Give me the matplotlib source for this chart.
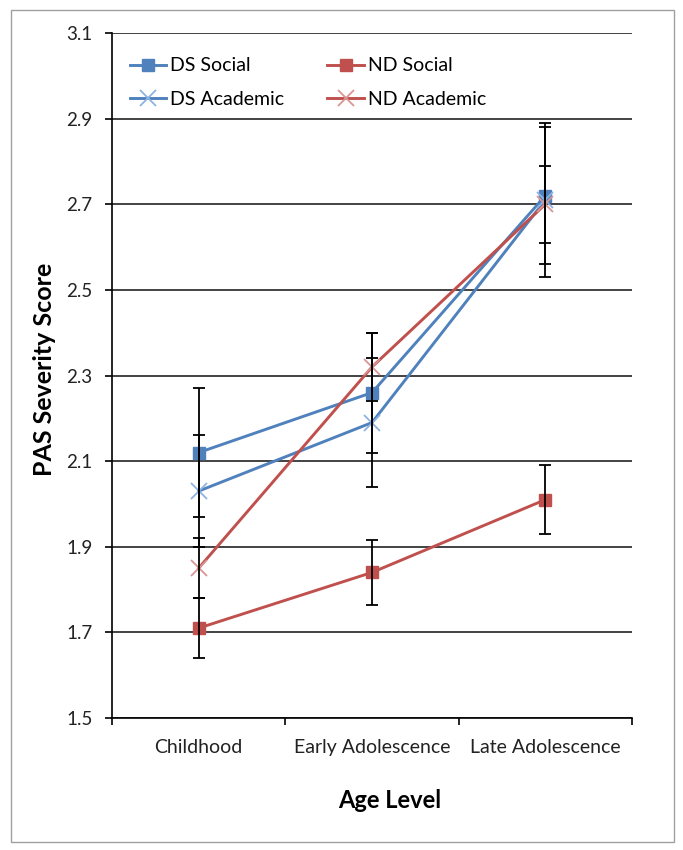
import matplotlib
matplotlib.use("Agg")
import matplotlib.pyplot as plt
from matplotlib.patches import Rectangle

plt.rcParams['font.family'] = ['Lato', 'DejaVu Sans']

categories = ["Childhood", "Early Adolescence", "Late Adolescence"]
ds_social = [2.12, 2.26, 2.72]
ds_social_err = [0.15, 0.14, 0.16]
ds_academic = [2.03, 2.19, 2.71]
ds_academic_err = [0.13, 0.15, 0.18]
nd_social = [1.71, 1.84, 2.01]
nd_social_err = [0.07, 0.075, 0.08]
nd_academic = [1.85, 2.32, 2.70]
nd_academic_err = [0.07, 0.08, 0.09]
y_ticks = [1.5, 1.7, 1.9, 2.1, 2.3, 2.5, 2.7, 2.9, 3.1]

blue = "#4F81BD"
red = "#C0504D"
light_blue = "#8DB3E2"
light_red = "#D99694"

fig = plt.figure(figsize=(6.83, 8.5), dpi=100)
fig.patches.append(Rectangle((11/683, 1-842/850), (674-11)/683, (842-10)/850,
                             transform=fig.transFigure, fill=False,
                             edgecolor="#a0a0a0", linewidth=1.0))
ax = fig.add_axes([112/683, 1-718/850, (632-112)/683, (718-33)/850])

x = list(range(len(categories)))
lw = 2.1
ax.plot(x, ds_social, color=blue, lw=lw, marker="s", ms=9, mfc=blue, mec=blue, label="DS Social", zorder=4)
ax.plot(x, ds_academic, color=blue, lw=lw, marker="x", ms=11, mew=1.3, mec=light_blue, label="DS Academic", zorder=4)
ax.plot(x, nd_social, color=red, lw=lw, marker="s", ms=9, mfc=red, mec=red, label="ND Social", zorder=4)
ax.plot(x, nd_academic, color=red, lw=lw, marker="x", ms=11, mew=1.3, mec=light_red, label="ND Academic", zorder=4)

for vals, errs in [(ds_social, ds_social_err), (ds_academic, ds_academic_err),
                   (nd_social, nd_social_err), (nd_academic, nd_academic_err)]:
    ax.errorbar(x, vals, yerr=errs, fmt="none", ecolor="black", elinewidth=1.3,
                capsize=4.5, capthick=1.3, zorder=5)

ax.set_xlim(-0.5, 2.5)
ax.set_ylim(1.5, 3.1)
ax.set_yticks(y_ticks)
ax.set_yticklabels([f"{v:.1f}" for v in y_ticks], fontsize=13.5, color="#222222")
ax.set_xticks([-0.5, 0.5, 1.5, 2.5])
ax.set_xticklabels([])
ax.set_xticks(x, minor=True)
ax.set_xticklabels(categories, minor=True, fontsize=14, color="#222222")
ax.tick_params(axis="x", which="major", length=5, width=1.2, direction="out")
ax.tick_params(axis="x", which="minor", length=0, pad=15)
ax.tick_params(axis="y", length=5, width=1.2, direction="out", pad=9)

ax.yaxis.grid(True, color="#222222", linewidth=1.2)
ax.set_axisbelow(True)
for s in ["top", "right"]:
    ax.spines[s].set_visible(False)
for s in ["left", "bottom"]:
    ax.spines[s].set_color("black")
    ax.spines[s].set_linewidth(1.2)

fig.text(45/683, 1-369/850, "PAS Severity Score", rotation=90, fontsize=18,
         fontweight="bold", ha="center", va="center")
fig.text(390/683, 1-801/850, "Age Level", fontsize=17, fontweight="bold",
         ha="center", va="center")

handles, labels = ax.get_legend_handles_labels()
order = [0, 1, 2, 3]
leg = ax.legend([handles[i] for i in order], [labels[i] for i in order],
                ncol=2, loc="upper left", bbox_to_anchor=(0.0, 0.99),
                frameon=False, fontsize=14, handlelength=1.9,
                handletextpad=0.2, columnspacing=2.2, labelspacing=0.85)

fig.savefig("out.png", dpi=100)
